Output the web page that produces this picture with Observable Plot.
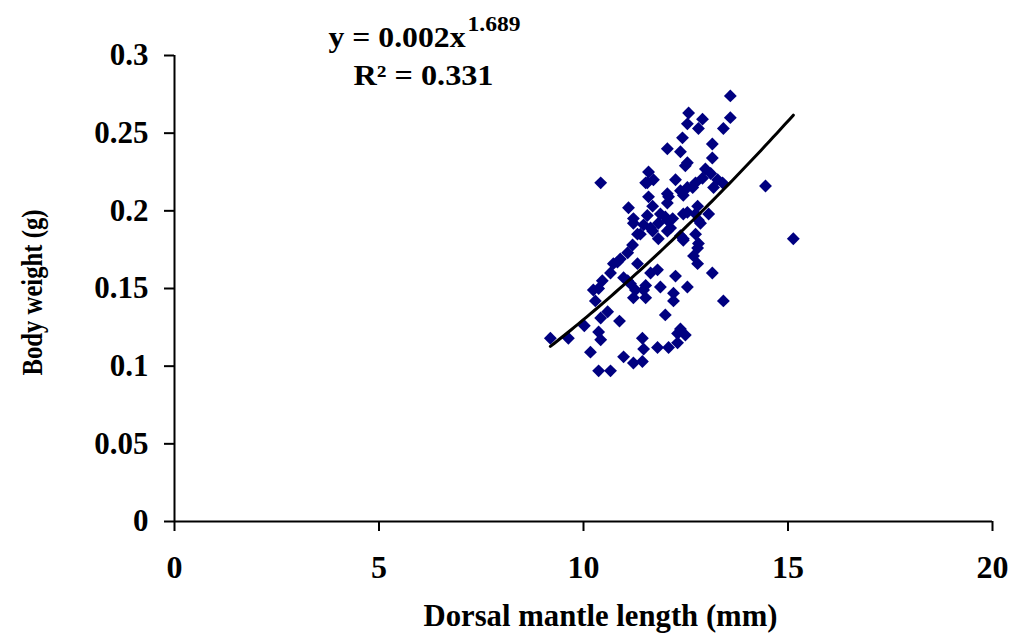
<!DOCTYPE html>
<html><head><meta charset="utf-8">
<script src="https://cdn.jsdelivr.net/npm/d3@7"></script>
<script src="https://cdn.jsdelivr.net/npm/@observablehq/plot@0.6"></script>
<style>body{margin:0;background:#fff;} svg{display:block}</style>
</head><body><div id="chart"></div>
<script>
const mantleLength = [9.19,9.63,10.02,10.17,10.37,10.42,10.37,10.66,10.88,10.42,10.59,10.29,10.37,10.24,10.46,10.66,10.83,11.08,11.20,11.32,
11.22,11.47,11.64,11.83,12.13,11.08,11.22,11.47,11.52,11.88,11.64,11.81,12.25,12.20,12.00,11.44,11.47,11.81,12.08,12.30,
12.30,10.98,11.22,11.44,15.13,13.15,13.42,12.37,12.49,12.54,12.69,12.79,12.81,12.74,12.86,12.44,13.59,13.59,13.42,12.57,
12.91,12.54,12.81,12.42,13.15,13.15,12.54,12.37,12.05,14.45,12.98,13.11,13.28,13.18,13.40,12.91,12.74,12.54,12.44,13.06,
12.79,12.54,12.81,12.44,12.49,12.25,12.05,12.05,11.88,12.05,10.42,11.59,11.56,11.71,11.10,11.59,11.69,12.08,12.37,12.67,
12.74,11.56,12.00,12.44,11.22,11.52,12.18,11.39,11.69,11.83,12.05,12.37,10.90,10.73,10.98,11.15,11.27,11.52,12.79,12.20,11.32];
const bodyWeight = [0.118,0.118,0.126,0.109,0.122,0.117,0.097,0.097,0.129,0.131,0.135,0.142,0.150,0.149,0.155,0.160,0.167,0.173,0.178,0.185,
0.192,0.191,0.189,0.192,0.189,0.155,0.144,0.149,0.144,0.151,0.160,0.162,0.158,0.142,0.133,0.118,0.111,0.112,0.112,0.121,
0.115,0.106,0.102,0.103,0.182,0.160,0.142,0.124,0.120,0.151,0.171,0.166,0.179,0.185,0.192,0.182,0.274,0.260,0.253,0.263,
0.259,0.256,0.253,0.247,0.243,0.234,0.231,0.238,0.240,0.216,0.227,0.224,0.220,0.215,0.218,0.221,0.218,0.215,0.210,0.198,
0.203,0.199,0.194,0.181,0.229,0.220,0.211,0.205,0.198,0.194,0.218,0.225,0.218,0.220,0.202,0.209,0.203,0.209,0.213,0.215,
0.198,0.197,0.196,0.198,0.195,0.218,0.195,0.185,0.187,0.182,0.187,0.184,0.169,0.166,0.157,0.153,0.149,0.152,0.176,0.147,0.166];
const xTicks = [0,5,10,15,20];
const yTicks = [0,0.05,0.1,0.15,0.2,0.25,0.3];
const trendCoef = 0.00266;
const trendExp = 1.689;
const eqMain = "y = 0.002x";
const eqPower = "1.689";
const eqR2 = "R² = 0.331";
const xTitle = "Dorsal mantle length (mm)";
const yTitle = "Body weight (g)";

const points = mantleLength.map((x, i) => ({x, y: bodyWeight[i]}));
const xMin = d3.min(mantleLength), xMax = d3.max(mantleLength);
const trend = d3.range(0, 61).map(i => {
  const x = xMin + (xMax - xMin) * i / 60;
  return {x, y: trendCoef * Math.pow(x, trendExp)};
});
const font = "'Liberation Serif', 'Times New Roman', serif";

const chart = Plot.plot({
  width: 1017, height: 634,
  marginLeft: 174, marginRight: 25, marginTop: 55, marginBottom: 113,
  style: {fontFamily: font, fontWeight: "bold", background: "#fff", color: "#000", overflow: "visible"},
  x: {domain: [0, 20], ticks: xTicks, label: null},
  y: {domain: [0, 0.3], ticks: yTicks, label: null},
  marks: [
    Plot.axisX({ticks: xTicks, tickSize: 10, tickPadding: 24, fontSize: 32, fontWeight: "bold", strokeWidth: 2, label: null}),
    Plot.axisY({ticks: yTicks, tickSize: 10, tickPadding: 16, fontSize: 31, fontWeight: "bold", strokeWidth: 2, label: null, tickFormat: d => String(d)}),
    Plot.ruleX([0], {stroke: "#000", strokeWidth: 2}),
    Plot.ruleY([0], {stroke: "#000", strokeWidth: 2}),
    Plot.dot(points, {x: "x", y: "y", symbol: "diamond2", r: 5.8, fill: "#000080", stroke: "none"}),
    Plot.line(trend, {x: "x", y: "y", stroke: "#000", strokeWidth: 3}),
    Plot.text([eqMain], {frameAnchor: "top-left", textAnchor: "start", lineAnchor: "bottom", dx: 154, dy: -9, fontSize: 29, fontWeight: "bold", fill: "#000"}),
    Plot.text([eqPower], {frameAnchor: "top-left", textAnchor: "start", lineAnchor: "bottom", dx: 293, dy: -25, fontSize: 20, fontWeight: "bold", fill: "#000"}),
    Plot.text([eqR2], {frameAnchor: "top-left", textAnchor: "start", lineAnchor: "bottom", dx: 179, dy: 29, fontSize: 29, fontWeight: "bold", fill: "#000"}),
    Plot.text([xTitle], {frameAnchor: "bottom", textAnchor: "middle", lineAnchor: "bottom", dx: 17, dy: 104, fontSize: 32, fontWeight: "bold", fill: "#000"}),
    Plot.text([yTitle], {frameAnchor: "left", textAnchor: "middle", lineAnchor: "middle", rotate: -90, dx: -142, dy: 4, fontSize: 29, fontWeight: "bold", fill: "#000"})
  ]
});
// stretch/condense text to the reference's widths
const stretch = {[eqMain]: 137, [eqPower]: 53, [eqR2]: 140, [xTitle]: 354, [yTitle]: 166};
d3.select(chart).selectAll("text").each(function() {
  const t = this.textContent;
  if (stretch[t]) {
    this.setAttribute("textLength", stretch[t]);
    this.setAttribute("lengthAdjust", "spacingAndGlyphs");
  }
});
document.getElementById("chart").appendChild(chart);
</script>
</body></html>
